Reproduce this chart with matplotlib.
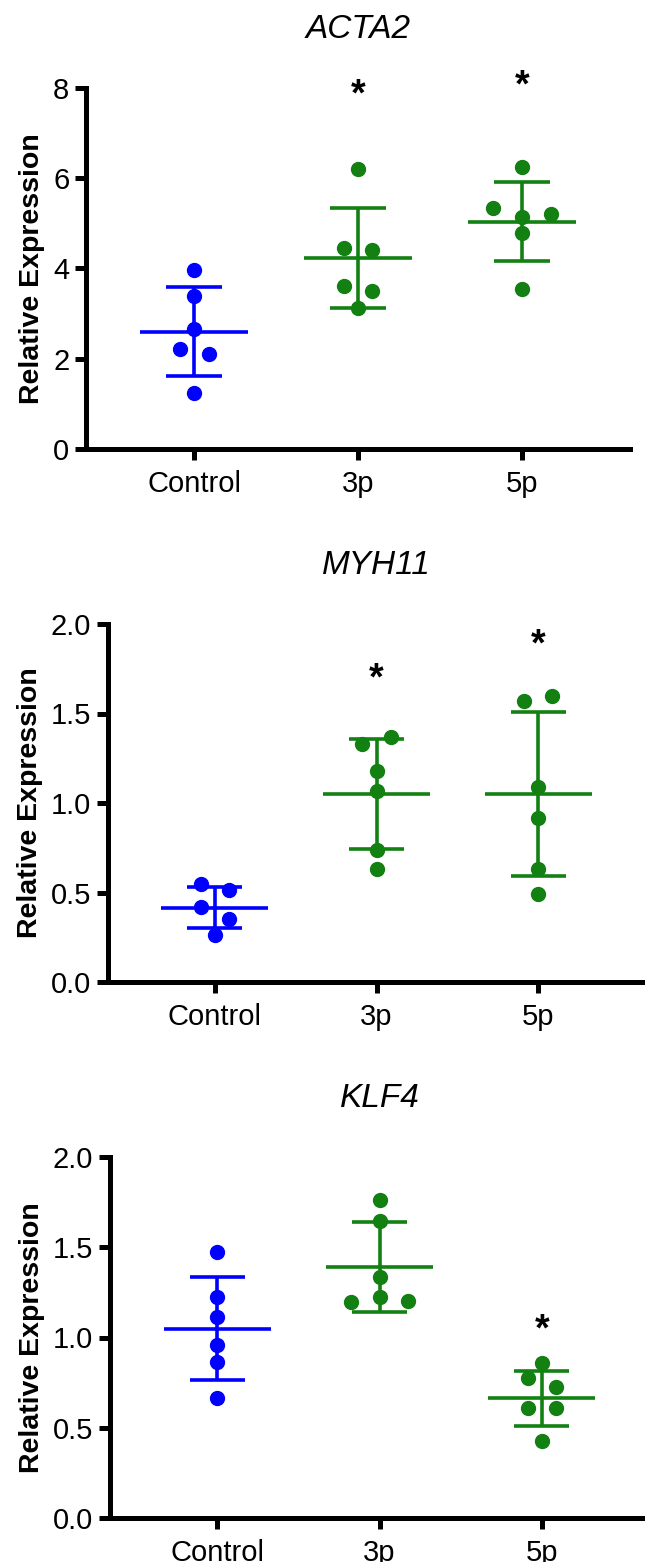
import numpy as np
import matplotlib
matplotlib.use("Agg")
import matplotlib.pyplot as plt
from matplotlib.ticker import FormatStrFormatter

plt.rcParams['font.family'] = ['Liberation Sans', 'DejaVu Sans']

groups = ['Control', '3p', '5p']
colors = ['#0000FF', '#138012', '#138012']

# ACTA2
acta2_pts = [[3.97, 3.40, 2.65, 2.21, 2.10, 1.23],
             [6.21, 4.45, 4.40, 3.62, 3.51, 3.13],
             [6.26, 5.33, 5.20, 5.15, 4.78, 3.55]]
acta2_jit = [[0, 0, 0, -1, 1, 0],
             [0, -1, 1, -1, 1, 0],
             [0, -2, 2, 0, 0, 0]]
acta2_mean = [2.60, 4.23, 5.04]
acta2_sd = [0.985, 1.11, 0.875]
acta2_star = [None, 7.98, 8.18]

# MYH11
myh11_pts = [[0.550, 0.513, 0.420, 0.354, 0.261],
             [1.367, 1.330, 1.180, 1.069, 0.737, 0.631],
             [1.571, 1.595, 1.091, 0.914, 0.634, 0.494]]
myh11_jit = [[-1, 1, -1, 1, 0],
             [1, -1, 0, 0, 0, 0],
             [-1, 1, 0, 0, 0, 0]]
myh11_mean = [0.416, 1.05, 1.05]
myh11_sd = [0.116, 0.306, 0.46]
myh11_star = [None, 1.73, 1.92]

# KLF4
klf4_pts = [[1.471, 1.222, 1.115, 0.958, 0.863, 0.664],
            [1.764, 1.644, 1.333, 1.222, 1.194, 1.204],
            [0.861, 0.774, 0.724, 0.612, 0.608, 0.424]]
klf4_jit = [[0, 0, 0, 0, 0, 0],
            [0, 0, 0, 0, -2, 2],
            [0, -1, 1, -1, 1, 0]]
klf4_mean = [1.049, 1.392, 0.664]
klf4_sd = [0.284, 0.249, 0.153]
klf4_star = [None, None, 1.08]

panels = [
    ('ACTA2', acta2_pts, acta2_jit, acta2_mean, acta2_sd, acta2_star, 8, [0, 2, 4, 6, 8], '%d',
     [86/645, 1-449/1562, 544/645, 361/1562]),
    ('MYH11', myh11_pts, myh11_jit, myh11_mean, myh11_sd, myh11_star, 2, [0, 0.5, 1.0, 1.5, 2.0], '%.1f',
     [108/645, 1-982/1562, 537/645, 358/1562]),
    ('KLF4', klf4_pts, klf4_jit, klf4_mean, klf4_sd, klf4_star, 2, [0, 0.5, 1.0, 1.5, 2.0], '%.1f',
     [110/645, 1-1518/1562, 539/645, 361/1562]),
]

fig = plt.figure(figsize=(6.45, 15.62), dpi=100)

for title, pts, jit, means, sds, stars, ymax, yticks, fmt, rect in panels:
    ax = fig.add_axes(rect)
    for i in range(len(groups)):
        c = colors[i]
        xs = i + 0.088 * np.array(jit[i])
        ax.plot(xs, pts[i], 'o', color=c, markersize=10, zorder=3, clip_on=False)
        m, s = means[i], sds[i]
        ax.hlines(m, i - 0.33, i + 0.33, color=c, lw=2.6, zorder=2)
        ax.hlines([m - s, m + s], i - 0.17, i + 0.17, color=c, lw=2.6, zorder=2)
        ax.vlines(i, m - s, m + s, color=c, lw=2.6, zorder=2)
        if stars[i] is not None:
            # asterisk glyph sits high in its box, nudge it down
            ax.annotate('*', (i, stars[i]), xytext=(0, -5), textcoords='offset points',
                        ha='center', va='center', fontsize=27, fontweight='bold',
                        annotation_clip=False)
    ax.set_xlim(-0.66, 2.66)
    ax.set_ylim(0, ymax)
    ax.set_xticks(range(len(groups)))
    ax.set_xticklabels(groups)
    ax.set_yticks(yticks)
    ax.yaxis.set_major_formatter(FormatStrFormatter(fmt))
    for sp in ['top', 'right']:
        ax.spines[sp].set_visible(False)
    for sp in ['left', 'bottom']:
        ax.spines[sp].set_linewidth(3.6)
    ax.tick_params(axis='y', width=3.6, length=8, labelsize=21, pad=4)
    ax.tick_params(axis='x', width=3.6, length=8, labelsize=21, pad=7)
    ax.set_ylabel('Relative Expression', fontsize=20.5, fontweight='bold', labelpad=6)
    ax.set_title(title, fontsize=24, style='italic', pad=36)

fig.savefig('out.png', dpi=100)
